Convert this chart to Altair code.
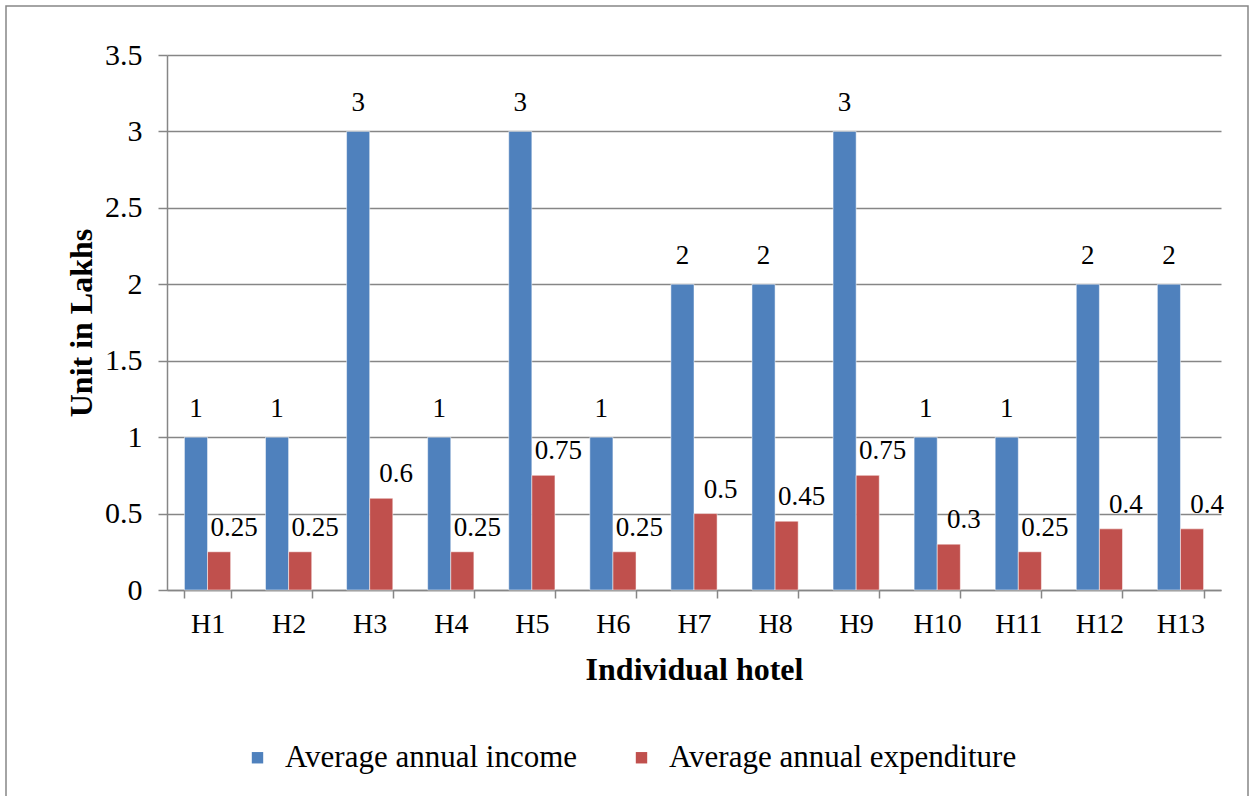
import altair as alt
import pandas as pd

hotels = ["H1", "H2", "H3", "H4", "H5", "H6", "H7", "H8", "H9", "H10", "H11", "H12", "H13"]
income = [1, 1, 3, 1, 3, 1, 2, 2, 3, 1, 1, 2, 2]
expenditure = [0.25, 0.25, 0.6, 0.25, 0.75, 0.25, 0.5, 0.45, 0.75, 0.3, 0.25, 0.4, 0.4]
series = ["Average annual income", "Average annual expenditure"]
colors = ["#4F81BD", "#C0504D"]

rows = []
for h, inc, exp in zip(hotels, income, expenditure):
    rows.append({"hotel": h, "series": series[0], "value": inc})
    rows.append({"hotel": h, "series": series[1], "value": exp})
df = pd.DataFrame(rows)

FONT = "Liberation Serif"
GRAY = "#868686"
W, H = 1054, 535

x_enc = alt.X(
    "hotel:N",
    sort=hotels,
    scale=alt.Scale(paddingInner=0.43, paddingOuter=0.215),
    axis=alt.Axis(
        title="Individual hotel",
        titleFont=FONT, titleFontSize=32, titleFontWeight="bold", titleColor="black",
        titlePadding=16,
        labelFont=FONT, labelFontSize=28, labelColor="black", labelPadding=12,
        labelAngle=0,
        tickBand="extent", tickSize=8, tickColor=GRAY, domainColor=GRAY,
        domainWidth=1.5, tickWidth=1.5, grid=False,
    ),
)
y_enc = alt.Y(
    "value:Q",
    scale=alt.Scale(domain=[0, 3.5], nice=False),
    axis=alt.Axis(
        title="Unit in Lakhs",
        values=[0, 0.5, 1, 1.5, 2, 2.5, 3, 3.5],
        format="~g",
        titleFont=FONT, titleFontSize=32, titleFontWeight="bold", titleColor="black",
        titlePadding=6,
        labelFont=FONT, labelFontSize=30, labelColor="black", labelPadding=16,
        tickSize=9, tickColor=GRAY, domainColor=GRAY,
        domainWidth=1.5, tickWidth=1.5,
        grid=True, gridColor=GRAY, gridWidth=1.5,
    ),
)
color_enc = alt.Color(
    "series:N",
    sort=series,
    scale=alt.Scale(domain=series, range=colors),
    legend=alt.Legend(
        title=None, orient="none", direction="horizontal",
        legendX=75, legendY=687,
        labelFont=FONT, labelFontSize=31, labelColor="black",
        symbolType="square", symbolSize=130, symbolStrokeWidth=0,
        columnPadding=48, labelOffset=12, labelLimit=600,
    ),
)

base = alt.Chart(df).encode(
    x=x_enc,
    xOffset=alt.XOffset("series:N", sort=series, scale=alt.Scale(paddingInner=0, paddingOuter=0)),
)

bars = base.mark_bar(stroke="white", strokeWidth=0.5).encode(y=y_enc, color=color_enc)

labels_income = base.transform_filter(alt.datum.series == series[0]).mark_text(
    font=FONT, fontSize=27, baseline="bottom", dy=-14, color="black"
).encode(y="value:Q", text=alt.Text("value:Q", format="~g"))

labels_exp = base.transform_filter(alt.datum.series == series[1]).mark_text(
    font=FONT, fontSize=27, baseline="bottom", dy=-10, dx=15, color="black"
).encode(y="value:Q", text=alt.Text("value:Q", format="~g"))

# thin frame around the whole figure
frame = alt.Chart(pd.DataFrame({"k": [0]})).mark_rect(
    fill=None, stroke=GRAY, strokeWidth=1.5
).encode(
    x=alt.value(-161), x2=alt.value(1081), y=alt.value(-49), y2=alt.value(760)
)

chart = alt.layer(frame, bars, labels_income, labels_exp).properties(
    width=W, height=H,
    padding={"left": 167, "top": 55, "right": 29, "bottom": 206},
    autosize=alt.AutoSizeParams(type="none"),
    background="white",
).configure_view(stroke=None)

chart.save("out.html", embed_options={"renderer": "svg", "actions": False})
